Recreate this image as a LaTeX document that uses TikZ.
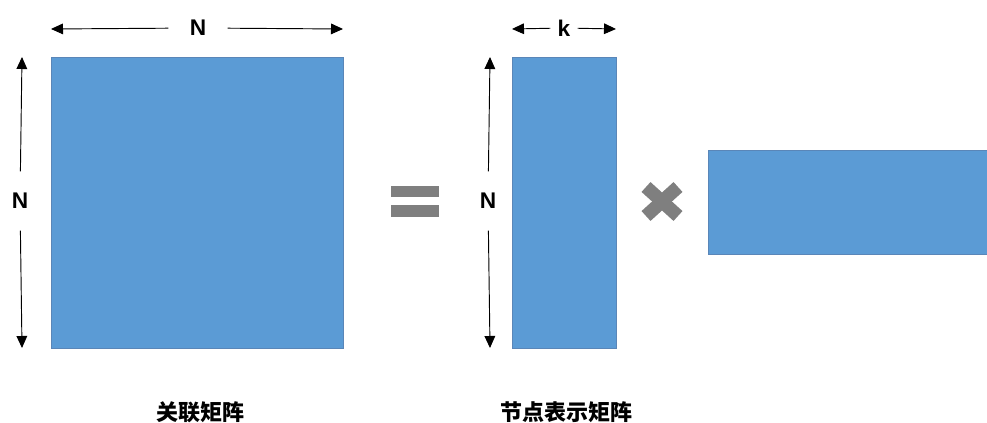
\documentclass[tikz,border=0pt]{standalone}
\usepackage{fontspec}
\setmainfont{Liberation Sans}
\newfontfamily\cjk{Noto Sans CJK SC}
\usetikzlibrary{arrows.meta}
\definecolor{matblue}{HTML}{5B9BD5}
\definecolor{matedge}{HTML}{5A86B8}
\definecolor{opgray}{HTML}{7F7F7F}
\tikzset{
    matrixbox/.style={fill=matblue, draw=matedge, line width=0.6pt},
    dimarrow/.style={-{Triangle[length=9pt,width=8pt]}, line width=0.7pt},
    dimlabel/.style={font=\bfseries\fontsize{17}{18}\selectfont, inner sep=0pt},
    caption/.style={font=\cjk\bfseries\fontsize{16.5}{18}\selectfont, inner sep=0pt}
}

\begin{document}
\begin{tikzpicture}[x=0.75pt, y=-0.75pt]
    \useasboundingbox (0,0) rectangle (987,423);

    % 关联矩阵
    \filldraw[matrixbox] (51,57) rectangle (343,348);
    \coordinate (adjL) at (51,29);
    \coordinate (adjR) at (343,29);
    \coordinate (adjT) at (22,57);
    \coordinate (adjB) at (22,348);

    % 上の寸法 N
    \node[dimlabel, minimum width=44pt] (adjtopN) at (198,28) {N};
    \draw[dimarrow] (adjtopN) -- (adjL);
    \draw[dimarrow] (adjtopN) -- (adjR);

    % 左の寸法 N
    \node[dimlabel, minimum height=44pt] (adjleftN) at (20,201) {N};
    \draw[dimarrow] (adjleftN) -- (adjT);
    \draw[dimarrow] (adjleftN) -- (adjB);

    % 等号
    \fill[opgray] (391,186) rectangle (439,197);
    \fill[opgray] (391,205) rectangle (439,217);

    % 节点表示矩阵
    \filldraw[matrixbox] (512,57) rectangle (616,348);
    \coordinate (embL) at (512,29);
    \coordinate (embR) at (616,29);
    \coordinate (embT) at (490,57);
    \coordinate (embB) at (490,348);

    % 上の寸法 k
    \node[dimlabel, minimum width=20pt] (embtopk) at (564,28) {k};
    \draw[dimarrow] (embtopk) -- (embL);
    \draw[dimarrow] (embtopk) -- (embR);

    % 左の寸法 N
    \node[dimlabel, minimum height=44pt] (embleftN) at (488,201) {N};
    \draw[dimarrow] (embleftN) -- (embT);
    \draw[dimarrow] (embleftN) -- (embB);

    % 乗算記号
    \draw[opgray, line width=10pt] (646,187) -- (678,216);
    \draw[opgray, line width=10pt] (646,216) -- (678,187);

    % 右の行列
    \filldraw[matrixbox] (708,150) rectangle (987,254);

    % キャプション
    \node[caption] (adjcap) at (200,412) {关联矩阵};
    \node[caption] (embcap) at (566,412) {节点表示矩阵};
\end{tikzpicture}
\end{document}
